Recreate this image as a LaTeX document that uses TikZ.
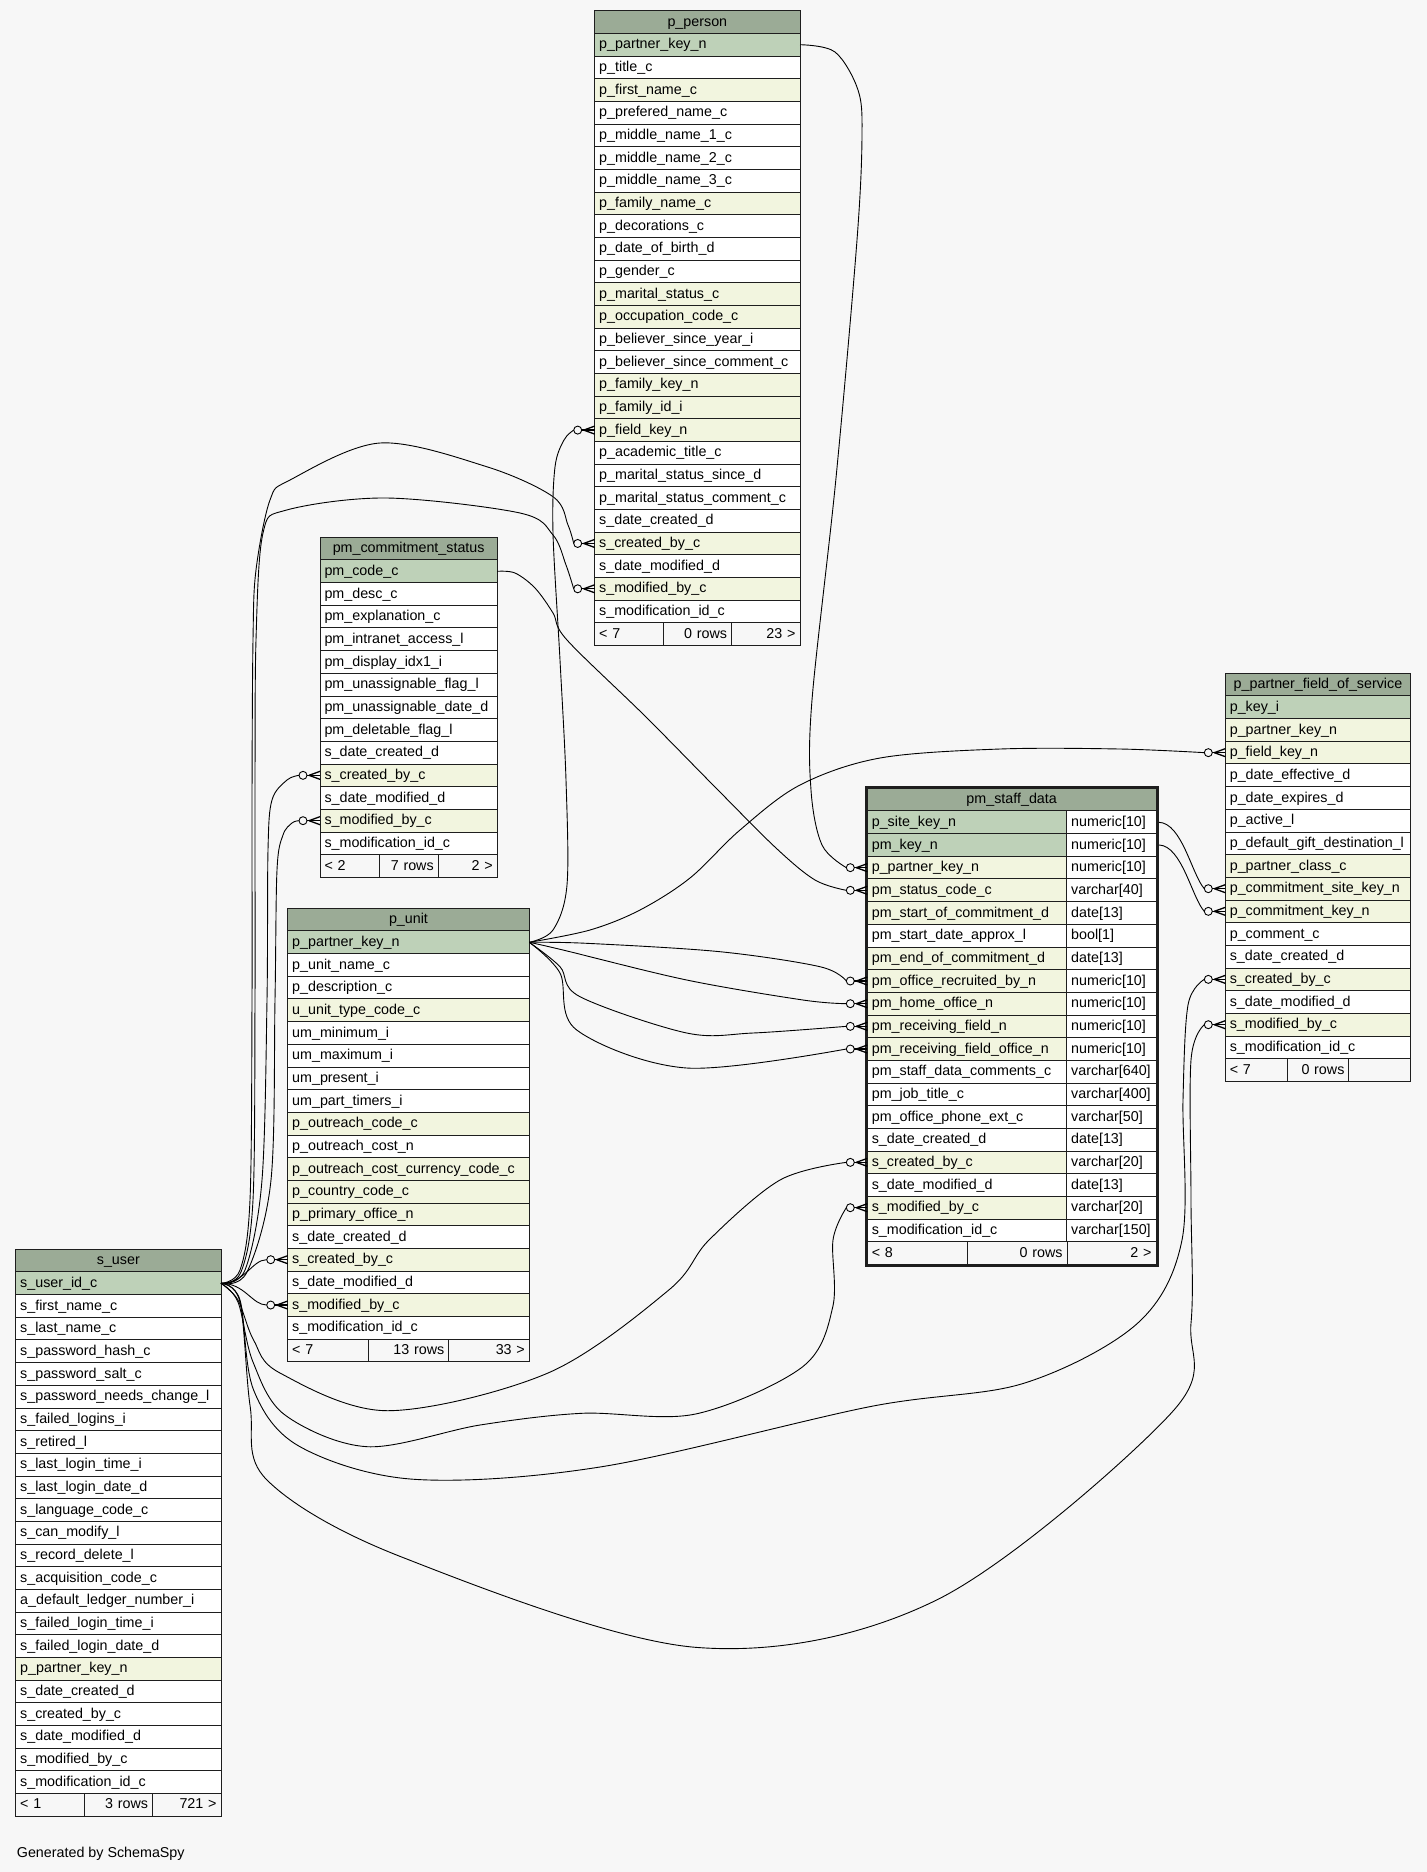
\documentclass[tikz,border=0pt]{standalone}
\usepackage{fontspec}
\setmainfont{Liberation Sans}
\definecolor{bgc}{HTML}{F7F7F7}
\definecolor{hdc}{HTML}{9BAB96}
\definecolor{ckp}{HTML}{BED1B8}
\definecolor{ckf}{HTML}{F2F5DF}
\definecolor{ckn}{HTML}{FFFFFF}
\definecolor{lnc}{HTML}{1E1E1E}
\newcommand{\tabfont}{\fontsize{14.3pt}{17pt}\selectfont}
\tikzset{
  cell/.style={draw=lnc, line width=1pt, rectangle, anchor=north west, outer sep=0pt,
    inner xsep=4.5pt, inner ysep=0pt, minimum height=22.67pt, text height=11pt,
    text depth=2.67pt, font=\tabfont, text=black},
  conn/.style={draw=black, line width=0.9pt},
  crow/.style={draw=black, line width=1.3pt}
}
% prefix, x, y, header width, row width, title, rows
\newcommand{\dbtable}[7]{%
  \pgfmathsetmacro\hw{#4-9}%
  \pgfmathsetmacro\rw{#5-9}%
  \node[cell, fill=hdc, text width=\hw pt, align=center] (#1-h) at (#2,#3) {\mbox{#6}};
  \foreach \ck/\cn [count=\i from 0] in {#7} {
    \node[cell, fill=\ck, text width=\rw pt, align=left] (#1-\i) at (#2,{#3+22.67*(\i+1)}) {\mbox{\cn}};
  }%
}
% prefix, x, y, w1, w2, w3, t1, t2, t3
\newcommand{\dbfoot}[9]{%
  \pgfmathsetmacro\fwa{#4-9}\pgfmathsetmacro\fwb{#5-9}\pgfmathsetmacro\fwc{#6-9}%
  \node[cell, text width=\fwa pt, align=left] (#1-fa) at (#2,#3) {\mbox{#7}};
  \node[cell, text width=\fwb pt, align=right] (#1-fb) at ({#2+#4},#3) {\mbox{#8}};
  \node[cell, text width=\fwc pt, align=right] (#1-fc) at ({#2+#4+#5},#3) {\mbox{#9}};
}
\newcommand{\fkend}[1]{%
  \draw[conn, fill=bgc] ([xshift=-17pt]#1) circle (4pt);
  \draw[crow] ([xshift=-13pt]#1) -- (#1);
  \draw[crow] ([xshift=-11pt]#1) -- ([yshift=4pt]#1);
  \draw[crow] ([xshift=-11pt]#1) -- ([yshift=-4pt]#1);
}
\begin{document}
\begin{tikzpicture}[x=1pt,y=-1pt]
\useasboundingbox (0,0) rectangle (1427,1872);
\fill[bgc] (0,0) rectangle (1427,1872);

% p_person
\dbtable{pp}{594.7}{10.7}{205.3}{205.3}{p\_person}{ckp/p\_partner\_key\_n, ckn/p\_title\_c, ckf/p\_first\_name\_c, ckn/p\_prefered\_name\_c, ckn/p\_middle\_name\_1\_c, ckn/p\_middle\_name\_2\_c, ckn/p\_middle\_name\_3\_c, ckf/p\_family\_name\_c, ckn/p\_decorations\_c, ckn/p\_date\_of\_birth\_d, ckn/p\_gender\_c, ckf/p\_marital\_status\_c, ckf/p\_occupation\_code\_c, ckn/p\_believer\_since\_year\_i, ckn/p\_believer\_since\_comment\_c, ckf/p\_family\_key\_n, ckf/p\_family\_id\_i, ckf/p\_field\_key\_n, ckn/p\_academic\_title\_c, ckn/p\_marital\_status\_since\_d, ckn/p\_marital\_status\_comment\_c, ckn/s\_date\_created\_d, ckf/s\_created\_by\_c, ckn/s\_date\_modified\_d, ckf/s\_modified\_by\_c, ckn/s\_modification\_id\_c}
\dbfoot{pp}{594.7}{622.79}{68.43}{68.43}{68.44}{< 7}{0 rows}{23 >}

% pm_commitment_status
\dbtable{pcs}{320}{537.3}{177.3}{177.3}{pm\_commitment\_status}{ckp/pm\_code\_c, ckn/pm\_desc\_c, ckn/pm\_explanation\_c, ckn/pm\_intranet\_access\_l, ckn/pm\_display\_idx1\_i, ckn/pm\_unassignable\_flag\_l, ckn/pm\_unassignable\_date\_d, ckn/pm\_deletable\_flag\_l, ckn/s\_date\_created\_d, ckf/s\_created\_by\_c, ckn/s\_date\_modified\_d, ckf/s\_modified\_by\_c, ckn/s\_modification\_id\_c}
\dbfoot{pcs}{320}{854.68}{59.1}{59.1}{59.1}{< 2}{7 rows}{2 >}

% p_unit
\dbtable{pu}{287.7}{908.3}{241.6}{241.6}{p\_unit}{ckp/p\_partner\_key\_n, ckn/p\_unit\_name\_c, ckn/p\_description\_c, ckf/u\_unit\_type\_code\_c, ckn/um\_minimum\_i, ckn/um\_maximum\_i, ckn/um\_present\_i, ckn/um\_part\_timers\_i, ckf/p\_outreach\_code\_c, ckn/p\_outreach\_cost\_n, ckf/p\_outreach\_cost\_currency\_code\_c, ckf/p\_country\_code\_c, ckf/p\_primary\_office\_n, ckn/s\_date\_created\_d, ckf/s\_created\_by\_c, ckn/s\_date\_modified\_d, ckf/s\_modified\_by\_c, ckn/s\_modification\_id\_c}
\dbfoot{pu}{287.7}{1339.03}{80.53}{80.53}{80.54}{< 7}{13 rows}{33 >}

% s_user
\dbtable{su}{15.7}{1249.3}{205.3}{205.3}{s\_user}{ckp/s\_user\_id\_c, ckn/s\_first\_name\_c, ckn/s\_last\_name\_c, ckn/s\_password\_hash\_c, ckn/s\_password\_salt\_c, ckn/s\_password\_needs\_change\_l, ckn/s\_failed\_logins\_i, ckn/s\_retired\_l, ckn/s\_last\_login\_time\_i, ckn/s\_last\_login\_date\_d, ckn/s\_language\_code\_c, ckn/s\_can\_modify\_l, ckn/s\_record\_delete\_l, ckn/s\_acquisition\_code\_c, ckn/a\_default\_ledger\_number\_i, ckn/s\_failed\_login\_time\_i, ckn/s\_failed\_login\_date\_d, ckf/p\_partner\_key\_n, ckn/s\_date\_created\_d, ckn/s\_created\_by\_c, ckn/s\_date\_modified\_d, ckn/s\_modified\_by\_c, ckn/s\_modification\_id\_c}
\dbfoot{su}{15.7}{1793.38}{68.43}{68.43}{68.44}{< 1}{3 rows}{721 >}

% pm_staff_data
\dbtable{psd}{867.3}{788.3}{288.7}{199.4}{pm\_staff\_data}{ckp/p\_site\_key\_n, ckp/pm\_key\_n, ckf/p\_partner\_key\_n, ckf/pm\_status\_code\_c, ckf/pm\_start\_of\_commitment\_d, ckn/pm\_start\_date\_approx\_l, ckf/pm\_end\_of\_commitment\_d, ckf/pm\_office\_recruited\_by\_n, ckf/pm\_home\_office\_n, ckf/pm\_receiving\_field\_n, ckf/pm\_receiving\_field\_office\_n, ckn/pm\_staff\_data\_comments\_c, ckn/pm\_job\_title\_c, ckn/pm\_office\_phone\_ext\_c, ckn/s\_date\_created\_d, ckf/s\_created\_by\_c, ckn/s\_date\_modified\_d, ckf/s\_modified\_by\_c, ckn/s\_modification\_id\_c}
\foreach \cn [count=\i from 0] in {{numeric[10]},{numeric[10]},{numeric[10]},{varchar[40]},{date[13]},{bool[1]},{date[13]},{numeric[10]},{numeric[10]},{numeric[10]},{numeric[10]},{varchar[640]},{varchar[400]},{varchar[50]},{date[13]},{varchar[20]},{date[13]},{varchar[20]},{varchar[150]}} {
  \node[cell, fill=ckn, text width=80.3pt, align=left] (psd-t\i) at (1066.7,{788.3+22.67*(\i+1)}) {\mbox{\cn}};
}
\dbfoot{psd}{867.3}{1241.7}{100.4}{99.4}{88.9}{< 8}{0 rows}{2 >}
\draw[lnc, line width=2.6pt] ([shift={(-1.3,-1.3)}]psd-h.north west) rectangle ([shift={(1.3,1.3)}]psd-fc.south east);

% p_partner_field_of_service
\dbtable{pff}{1225.3}{673.3}{185.4}{185.4}{p\_partner\_field\_of\_service}{ckp/p\_key\_i, ckf/p\_partner\_key\_n, ckf/p\_field\_key\_n, ckn/p\_date\_effective\_d, ckn/p\_date\_expires\_d, ckn/p\_active\_l, ckn/p\_default\_gift\_destination\_l, ckf/p\_partner\_class\_c, ckf/p\_commitment\_site\_key\_n, ckf/p\_commitment\_key\_n, ckn/p\_comment\_c, ckn/s\_date\_created\_d, ckf/s\_created\_by\_c, ckn/s\_date\_modified\_d, ckf/s\_modified\_by\_c, ckn/s\_modification\_id\_c}
\dbfoot{pff}{1225.3}{1058.69}{61.8}{61.8}{61.8}{< 7}{0 rows}{}

% connectors
\draw[conn] plot[smooth, tension=0.55] coordinates {(pp-0.east) (835,52) (858,90) (862,135) (857,240) (836,478) (812,700) (811,790) (822,845) ([xshift=-21pt]psd-2.west)};
\draw[conn] plot[smooth, tension=0.55] coordinates {(pcs-0.east) (515,573) (535,588) (553,613) (567,640) (645,716) (716,788) (776,848) (815,880) ([xshift=-21pt]psd-3.west)};
\draw[conn] plot[smooth, tension=0.55] coordinates {(pu-0.east) (553,930) (567,885) (566,780) (560,660) (553,533) (555,467) (564,440) ([xshift=-21pt]pp-17.west)};
\draw[conn] plot[smooth, tension=0.55] coordinates {(pu-0.east) (590,930) (640,910) (690,878) (740,830) (800,785) (880,758) (1000,749) (1120,749) ([xshift=-21pt]pff-2.west)};
\draw[conn] plot[smooth, tension=0.55] coordinates {(pu-0.east) (586.7,943.3) (720,951.7) (820,966.7) ([xshift=-21pt]psd-7.west)};
\draw[conn] plot[smooth, tension=0.55] coordinates {(pu-0.east) (563,950) (686.7,980) (803,1000) ([xshift=-21pt]psd-8.west)};
\draw[conn] plot[smooth, tension=0.55] coordinates {(pu-0.east) (560,966.7) (580,996.7) (686.7,1033) (753,1033) ([xshift=-21pt]psd-9.west)};
\draw[conn] plot[smooth, tension=0.55] coordinates {(pu-0.east) (560,973) (576.7,1030) (686.7,1068) ([xshift=-21pt]psd-10.west)};
\draw[conn] ([xshift=3pt]psd-t0.east) .. controls (1182,823) and (1192,875) .. ([xshift=-21pt]pff-8.west);
\draw[conn] ([xshift=3pt]psd-t1.east) .. controls (1182,845.7) and (1192,898) .. ([xshift=-21pt]pff-9.west);
\draw[conn] plot[smooth, tension=0.55] coordinates {(su-0.east) (240,1270) (250,1200) (252,1000) (252,800) (253,640) (256,570) (270,500) (290,480) (380,443) (486.7,466.7) (553,496.7) (568,525) ([xshift=-21pt]pp-22.west)};
\draw[conn] plot[smooth, tension=0.55] coordinates {(su-0.east) (241,1272) (253,1200) (255,1000) (255,800) (256,640) (263,533) (286.7,510) (386.7,498) (520,513) (553,535) (566,565) ([xshift=-21pt]pp-24.west)};
\draw[conn] plot[smooth, tension=0.55] coordinates {(su-0.east) (245,1270) (262,1180) (267,1000) (268,850) (272,800) (287,780) ([xshift=-21pt]pcs-9.west)};
\draw[conn] plot[smooth, tension=0.55] coordinates {(su-0.east) (247,1272) (271,1180) (275,1000) (277,870) (283,835) (292,823) ([xshift=-21pt]pcs-11.west)};
\draw[conn] (su-0.east) .. controls (245,1283.3) and (252,1259.7) .. ([xshift=-21pt]pu-14.west);
\draw[conn] (su-0.east) .. controls (245,1283.3) and (252,1305) .. ([xshift=-21pt]pu-16.west);
\draw[conn] plot[smooth, tension=0.55] coordinates {(su-0.east) (238,1300) (253.6,1340) (280,1373) (387.5,1410.7) (548,1373) (668.8,1290) (709,1240) (780,1180) ([xshift=-21pt]psd-15.west)};
\draw[conn] plot[smooth, tension=0.55] coordinates {(su-0.east) (238,1302) (253,1362) (285,1415) (367.4,1446.7) (480,1425) (581.7,1413.3) (695.5,1414) (802.7,1366.7) (832.8,1306.7) (833,1240) ([xshift=-21pt]psd-17.west)};
\draw[conn] plot[smooth, tension=0.55] coordinates {(su-0.east) (240,1300) (253.6,1390) (300,1446.7) (414.3,1479.3) (601.8,1466.7) (869.6,1406.7) (1023.7,1383.3) (1137.5,1323.3) (1182,1240) (1183,1100) (1188,1005) ([xshift=-21pt]pff-12.west)};
\draw[conn] plot[smooth, tension=0.55] coordinates {(su-0.east) (240,1302) (250.2,1406.7) (267,1480) (400.9,1556.7) (695.5,1647.3) (936.6,1600) (1171,1413.3) (1191,1323.3) (1191,1200) (1191,1060) ([xshift=-21pt]pff-14.west)};

% foreign key ends
\fkend{psd-2.west}
\fkend{psd-3.west}
\fkend{psd-7.west}
\fkend{psd-8.west}
\fkend{psd-9.west}
\fkend{psd-10.west}
\fkend{psd-15.west}
\fkend{psd-17.west}
\fkend{pp-17.west}
\fkend{pp-22.west}
\fkend{pp-24.west}
\fkend{pcs-9.west}
\fkend{pcs-11.west}
\fkend{pu-14.west}
\fkend{pu-16.west}
\fkend{pff-2.west}
\fkend{pff-8.west}
\fkend{pff-9.west}
\fkend{pff-12.west}
\fkend{pff-14.west}

\node[anchor=base west, font=\tabfont, inner sep=0pt] (gen) at (16.7,1857) {Generated by SchemaSpy};
\end{tikzpicture}
\end{document}
